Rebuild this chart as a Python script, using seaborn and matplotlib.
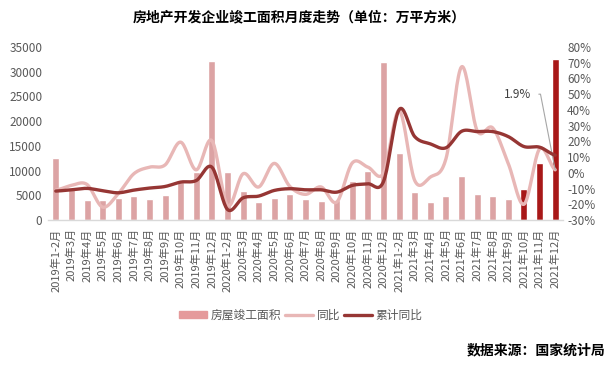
import matplotlib
matplotlib.use("Agg")
import matplotlib.pyplot as plt
import matplotlib.ticker as mticker
from matplotlib.lines import Line2D
from matplotlib.patches import Patch
import numpy as np
import pandas as pd
import seaborn as sns

# 月份
months = (["2019年1-2月"] + [f"2019年{m}月" for m in range(3, 13)]
          + ["2020年1-2月"] + [f"2020年{m}月" for m in range(3, 13)]
          + ["2021年1-2月"] + [f"2021年{m}月" for m in range(3, 13)])

# 房屋竣工面积（万平方米）
area = [12600, 6200, 4050, 4000, 4500, 4900, 4250, 5100, 7750, 9750, 32200,
        9750, 5850, 3700, 4500, 5300, 4250, 3850, 4100, 7850, 9900, 31900,
        13550, 5650, 3650, 4850, 8900, 5250, 4850, 4250, 6250, 11500, 32500]

# 同比（%）
yoy = [-11.0, -8.0, -7.4, -21.8, -13.3, -0.6, 3.6, 5.0, 19.5, 1.9, 20.5,
       -20.7, -0.6, -9.0, 6.0, -8.7, -13.7, -9.0, -18.6, 6.3, 3.6, -0.2,
       39.5, -4.9, -2.7, 8.9, 67.4, 26.8, 28.5, 5.7, -20.0, 15.2, 1.9]

# 累计同比（%）
cum_yoy = [-11.6, -10.8, -9.9, -11.4, -12.7, -11.0, -9.7, -8.7, -5.9, -4.9,
           3.6, -23.3, -15.9, -14.8, -11.2, -10.1, -10.8, -10.8, -12.3, -8.0,
           -7.0, -5.5, 40.2, 23.0, 18.4, 15.9, 26.4, 26.2, 26.2, 23.0, 16.7,
           16.3, 11.2]

BAR = "#E59A9B"
BAR_HL = "#C00000"
LIGHT = "#E8B7B6"
DARK = "#963634"
GREY = "#595959"


def smooth(y, n=20):
    """Catmull-Rom 平滑，仿 Excel 的平滑线"""
    y = np.asarray(y, dtype=float)
    p = np.concatenate([[y[0]], y, [y[-1]]])
    xs, ys = [], []
    for i in range(len(y) - 1):
        t = np.linspace(0, 1, n, endpoint=False)
        p0, p1, p2, p3 = p[i], p[i + 1], p[i + 2], p[i + 3]
        v = 0.5 * ((2 * p1) + (-p0 + p2) * t
                   + (2 * p0 - 5 * p1 + 4 * p2 - p3) * t ** 2
                   + (-p0 + 3 * p1 - 3 * p2 + p3) * t ** 3)
        xs.append(i + t)
        ys.append(v)
    xs.append([len(y) - 1])
    ys.append([y[-1]])
    return np.concatenate(xs), np.concatenate(ys)


sns.set_theme(style="white")
plt.rcParams["font.family"] = ["Noto Sans CJK SC", "DejaVu Sans"]

fig = plt.figure(figsize=(6.11, 3.74), dpi=100)
ax = fig.add_axes([48 / 611, 1 - 220 / 374, 515 / 611, 173 / 374])

df = pd.DataFrame({"month": months, "area": area})
colors = [BAR] * (len(months) - 3) + [BAR_HL] * 3
sns.barplot(data=df, x="month", y="area", hue="month", palette=colors,
            legend=False, dodge=False, width=0.45, ax=ax, zorder=1)

ax.set_ylim(0, 35000)
ax.set_xlim(-0.5, len(months) - 0.5)
ax.set_yticks(range(0, 35001, 5000))
ax.set_xlabel("")
ax.set_ylabel("")
ax.tick_params(axis="y", length=0, labelsize=8.5, labelcolor=GREY, pad=4)
ax.tick_params(axis="x", which="major", length=0, labelsize=8,
               labelcolor=GREY, rotation=90, pad=6)
ax.set_xticks(np.arange(-0.5, len(months)), minor=True)
ax.tick_params(axis="x", which="minor", length=4, color="#D9D9D9", width=1)
for s in ["top", "left", "right"]:
    ax.spines[s].set_visible(False)
ax.spines["bottom"].set_color("#D9D9D9")
ax.spines["bottom"].set_linewidth(1)
for lab in ax.get_xticklabels():
    lab.set_verticalalignment("top")

ax2 = ax.twinx()
ax2.set_ylim(-30, 80)
ax2.set_yticks(range(-30, 81, 10))
ax2.yaxis.set_major_formatter(mticker.FuncFormatter(lambda v, _: f"{v:.0f}%"))
ax2.tick_params(axis="y", length=0, labelsize=8.5, labelcolor=GREY, pad=3)
for s in ["top", "left", "right", "bottom"]:
    ax2.spines[s].set_visible(False)
ax2.grid(False)

xs, ys = smooth(yoy)
ax2.plot(xs, ys, color=LIGHT, lw=2.4, solid_capstyle="round", zorder=3)
xs, ys = smooth(cum_yoy)
ax2.plot(xs, ys, color=DARK, lw=2.4, solid_capstyle="round", zorder=4)

# 1.9% 标注
last = len(months) - 1
ax2.annotate(f"{yoy[-1]}%", xy=(last, yoy[-1]), xytext=(last - 2.4, 50),
             fontsize=8.5, color="#404040", ha="center", va="center",
             arrowprops=dict(arrowstyle="-", color="#A6A6A6", lw=0.8,
                             relpos=(1, 0.5),
                             connectionstyle="angle,angleA=0,angleB=101,rad=0",
                             shrinkA=3, shrinkB=0))

fig.text(299 / 611, 1 - 17 / 374,
         "房地产开发企业竣工面积月度走势（单位：万平方米）",
         ha="center", va="center", fontsize=10, fontweight="bold", color="black")

handles = [Patch(color=BAR, label="房屋竣工面积"),
           Line2D([], [], color=LIGHT, lw=2.4, label="同比"),
           Line2D([], [], color=DARK, lw=2.4, label="累计同比")]
fig.legend(handles=handles, loc="center", bbox_to_anchor=(301 / 611, 1 - 315 / 374),
           ncol=3, frameon=False, fontsize=8.5, labelcolor=GREY,
           handlelength=2.4, handletextpad=0.3, columnspacing=0.3,
           handleheight=0.6)

fig.text(605 / 611, 1 - 350 / 374, "数据来源：国家统计局", ha="right",
         va="center", fontsize=10, fontweight="bold", color="black")

fig.savefig("out.png", dpi=100)
